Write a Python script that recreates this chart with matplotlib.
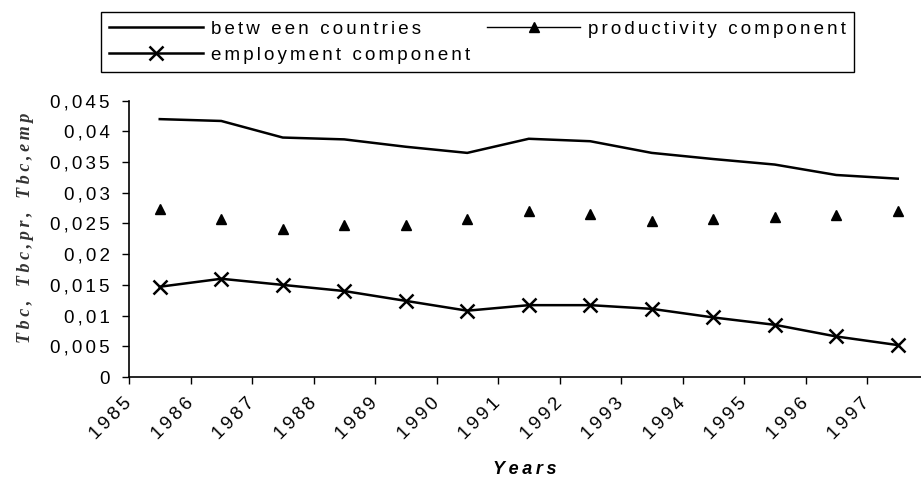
import matplotlib
matplotlib.use("Agg")
import matplotlib.pyplot as plt
from matplotlib.lines import Line2D

# category labels (Excel-style: labels on boundaries, points in the middle)
years = list(range(1985, 1998))
between = [0.0420, 0.0417, 0.0390, 0.0387, 0.0375, 0.0365, 0.0388, 0.0384,
           0.0365, 0.0355, 0.0346, 0.0329, 0.0323]
productivity = [0.0273, 0.0257, 0.0241, 0.0248, 0.0248, 0.0257, 0.0270, 0.0266,
                0.0254, 0.0257, 0.0261, 0.0264, 0.0271]
employment = [0.0147, 0.0160, 0.0150, 0.0140, 0.0124, 0.0108, 0.0117, 0.0117,
              0.0111, 0.0097, 0.0085, 0.0066, 0.0052]
yticks = [0, 0.005, 0.01, 0.015, 0.02, 0.025, 0.03, 0.035, 0.04, 0.045]
ytick_labels = ["0", "0,005", "0,01", "0,015", "0,02", "0,025", "0,03", "0,035", "0,04", "0,045"]
series_labels = ["betw een countries", "employment component", "productivity component"]


def spaced(s, sep="\u2006"):
    # the original renders text with wide letter spacing
    return sep.join(s)


plt.rcParams["font.family"] = ["Liberation Sans", "DejaVu Sans"]
FS = 13.5

W, H = 921, 486
fig = plt.figure(figsize=(W / 100, H / 100), dpi=100)
ax = fig.add_axes([129 / W, (H - 377) / H, (W - 129) / W, 276.3 / H])

xs = [y + 0.5 for y in years]
ax.plot(xs, between, color="black", lw=1.8)
ax.plot(xs, productivity, ls="none", marker="^", color="black", ms=7)
ax.plot(xs, employment, color="black", lw=1.8, marker="x", ms=10, mew=1.8)

ax.set_xlim(1985, 1985 + (W - 129) / 61.5)
ax.set_ylim(0, 0.045)
ax.set_xticks(years)
ax.set_xticklabels([spaced(str(y)) for y in years], rotation=45, ha="right",
                   va="center", rotation_mode="anchor", fontsize=FS)
ax.set_yticks(yticks)
ax.set_yticklabels([spaced(t) for t in ytick_labels], fontsize=FS)
ax.tick_params(axis="both", direction="out", length=5, width=1, colors="black")
ax.tick_params(axis="y", pad=9)
ax.tick_params(axis="x", pad=12)
for s in ("top", "right"):
    ax.spines[s].set_visible(False)
for s in ("left", "bottom"):
    ax.spines[s].set_linewidth(1.2)

ax.set_xlabel(spaced("Years", "\u2009"), fontsize=13, fontweight="bold", style="italic", labelpad=13)
fig.text(25 / W, 1 - 228 / H,
         spaced("Tbc,", "\u2009") + "   " + spaced("Tbc,pr,", "\u2009") + "   " + spaced("Tbc,emp", "\u2009"),
         rotation=90, ha="center", va="center", fontsize=13, fontweight="bold",
         style="italic", family=["Liberation Serif", "DejaVu Serif"], color="#333333")

handles = [
    Line2D([], [], color="black", lw=1.8),
    Line2D([], [], color="black", lw=1.8, marker="x", ms=10, mew=1.8),
    Line2D([], [], color="black", lw=1.0, marker="^", ms=7),
]
leg = fig.legend(handles, [spaced(s) for s in series_labels], ncol=2, loc="upper left",
                 bbox_to_anchor=(101 / W, 1 - 12 / H), fontsize=FS,
                 frameon=True, fancybox=False, edgecolor="black", framealpha=1,
                 handlelength=5.0, handletextpad=0.4, columnspacing=0.9,
                 labelspacing=0.5, borderpad=0.45, borderaxespad=0)
leg.get_frame().set_linewidth(1.0)

fig.savefig("out.png", dpi=100)
